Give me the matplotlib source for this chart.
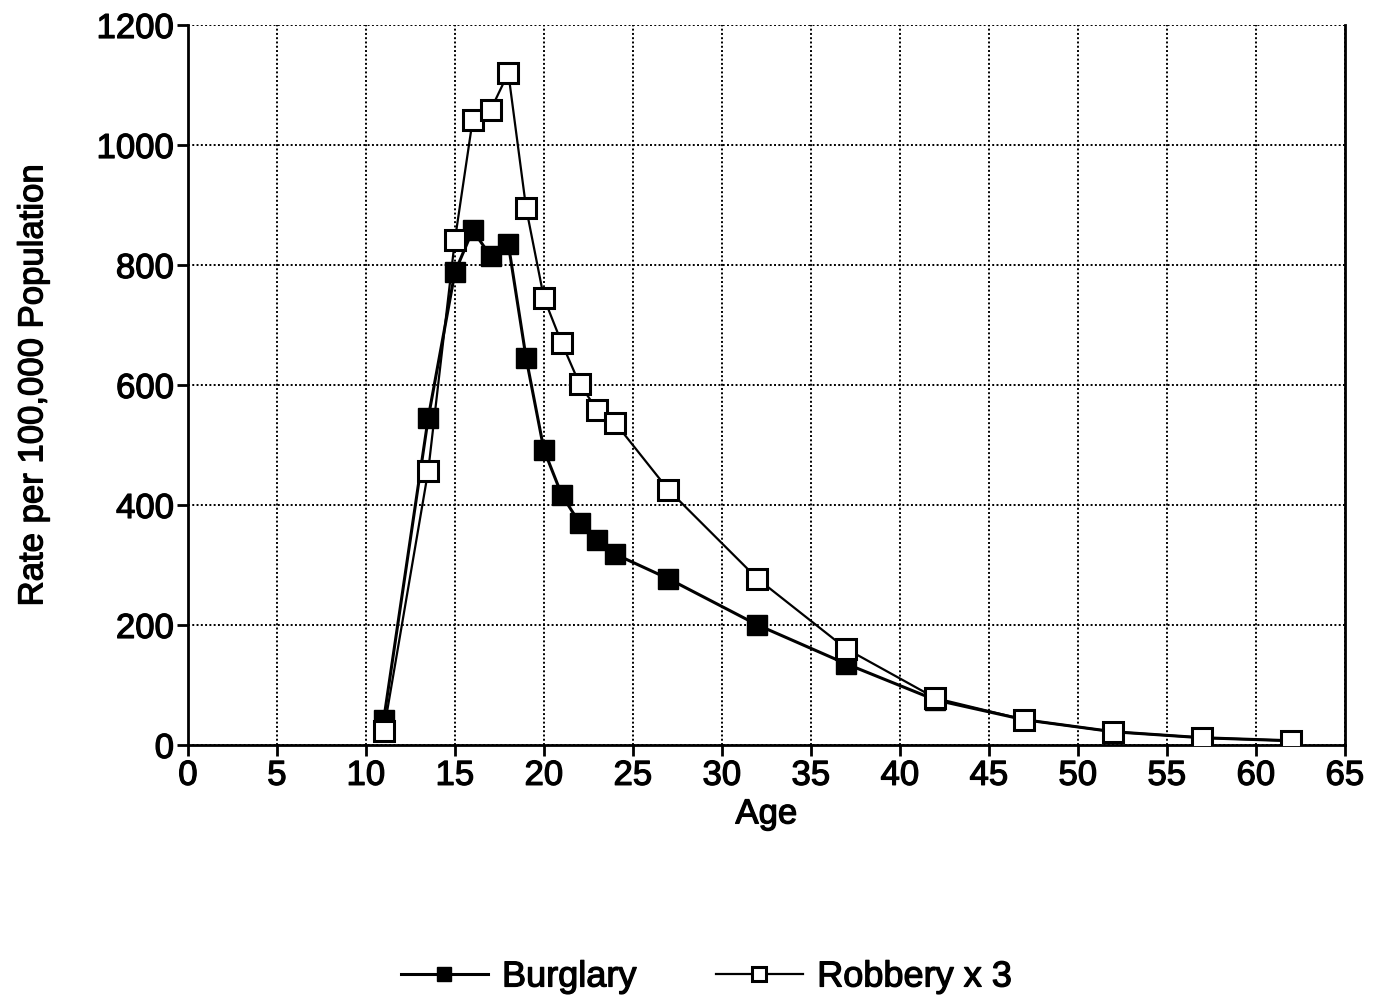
import matplotlib
matplotlib.use("Agg")
import matplotlib.pyplot as plt
import matplotlib.patheffects as pe

# ages (group midpoints) and rates per 100,000
ages = [11, 13.5, 15, 16, 17, 18, 19, 20, 21, 22, 23, 24, 27, 32, 37, 42, 47, 52, 57, 62]
burglary = [42, 545, 788, 858, 815, 835, 645, 492, 417, 370, 342, 318, 277, 200, 135, 75, 42, 22, 12, 7]
robbery_x3 = [23, 457, 842, 1042, 1058, 1120, 895, 745, 670, 602, 558, 537, 425, 277, 160, 78, 42, 22, 12, 7]

plt.rcParams['font.family'] = ['Liberation Sans', 'DejaVu Sans']
thick = [pe.withStroke(linewidth=0.9, foreground='black')]

fig = plt.figure(figsize=(13.85, 9.99), dpi=100)
ax = fig.add_axes([0.1357, 0.2543, 0.8353, 0.7207])

ax.plot(ages, burglary, color='black', lw=2.2, marker='s', ms=15,
        mfc='black', mec='black', label='Burglary', zorder=3)
ax.plot(ages, robbery_x3, color='black', lw=1.6, marker='s', ms=15,
        mfc='white', mec='black', mew=2.2, label='Robbery x 3', zorder=4)

ax.set_xlim(0, 65)
ax.set_ylim(0, 1200)
ax.set_xticks(range(0, 66, 5))
ax.set_yticks(range(0, 1201, 200))
ax.grid(True, color='black', linestyle=(0, (1, 1.2)), linewidth=1.4)
ax.set_axisbelow(True)

for s in ['left', 'bottom', 'right']:
    ax.spines[s].set_linewidth(2)
ax.spines['top'].set_visible(False)

ax.tick_params(axis='both', labelsize=25, width=2, length=8, direction='out', pad=2)
for lab in ax.get_xticklabels() + ax.get_yticklabels():
    lab.set_path_effects(thick)
ax.set_xlabel('Age', fontsize=25, labelpad=4, path_effects=thick)
ax.set_ylabel('Rate per 100,000 Population', fontsize=25, labelpad=34, path_effects=thick)

leg = fig.legend(loc='lower center', bbox_to_anchor=(0.51, -0.028), ncol=2, frameon=False,
                 fontsize=26, handlelength=2.4, handletextpad=0.4, columnspacing=2.2,
                 markerscale=0.7)
for t in leg.get_texts():
    t.set_path_effects(thick)

fig.savefig('out.png', dpi=100)
